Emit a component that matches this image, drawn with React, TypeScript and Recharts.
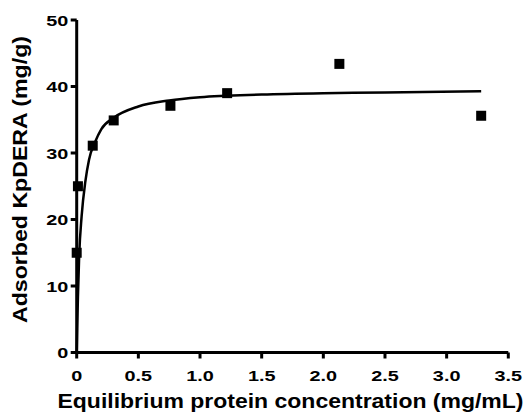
import React from 'react';
import { ComposedChart, Line, Scatter, XAxis, YAxis } from 'recharts';

// measured adsorption points
const pointX = [0.0, 0.01, 0.13, 0.3, 0.76, 1.22, 2.13, 3.28];
const pointY = [15.0, 25.0, 31.1, 34.9, 37.1, 39.0, 43.4, 35.6];

// fitted curve
const curveX = [0, 0.004, 0.01, 0.02, 0.04, 0.07, 0.1, 0.15, 0.2, 0.3, 0.5, 0.75, 1.0, 1.5, 2.0, 2.5, 3.28];
const curveY = [0, 3.6, 8.4, 14.5, 20.5, 25.7, 29.0, 31.7, 33.6, 35.3, 37.0, 37.9, 38.4, 38.8, 39.0, 39.1, 39.3];

const xTicks = [0, 0.5, 1, 1.5, 2, 2.5, 3, 3.5];
const yTicks = [0, 10, 20, 30, 40, 50];

const points = pointX.map((x, i) => ({ x, y: pointY[i] }));
const curve = curveX.map((x, i) => ({ x, y: curveY[i] }));

const font = 'Liberation Sans, Arial, sans-serif';
const STRETCH = 1.28;

const Square = (props: any) => {
  const { cx, cy } = props;
  if (cx == null || cy == null) return null;
  return <rect x={cx - 5} y={cy - 5} width={10} height={10} fill="#000" />;
};

const XTick = (props: any) => {
  const { x, y, payload } = props;
  const v = payload.value as number;
  const txt = v === 0 ? '0' : v.toFixed(1);
  return (
    <text
      transform={`translate(${x},${y + 20.5}) scale(${STRETCH},1)`}
      textAnchor="middle"
      fontSize={15.5}
      fontWeight={700}
      fontFamily={font}
      fill="#000"
    >
      {txt}
    </text>
  );
};

const YTick = (props: any) => {
  const { x, y, payload } = props;
  return (
    <text
      transform={`translate(${x - 0.5},${y + 5.5}) scale(${STRETCH},1)`}
      textAnchor="end"
      fontSize={15.5}
      fontWeight={700}
      fontFamily={font}
      fill="#000"
    >
      {String(payload.value)}
    </text>
  );
};

const XLabel = () => (
  <text
    x={290.5}
    y={408}
    textAnchor="middle"
    fontSize={21}
    fontWeight={700}
    fontFamily={font}
    fill="#000"
    textLength={466}
    lengthAdjust="spacingAndGlyphs"
  >
    Equilibrium protein concentration (mg/mL)
  </text>
);

const YLabel = () => (
  <text
    transform="translate(27,179.5) rotate(-90)"
    textAnchor="middle"
    fontSize={21}
    fontWeight={700}
    fontFamily={font}
    fill="#000"
    textLength={287}
    lengthAdjust="spacingAndGlyphs"
  >
    Adsorbed KpDERA (mg/g)
  </text>
);

const App: React.FC = () => {
  return (
    <div style={{ width: 531, height: 412, margin: '-8px 0 0 -8px' }}>
      <ComposedChart width={531} height={412} margin={{ top: 20, right: 22.7, left: 26.7, bottom: 9.5 }}>
        <XAxis
          type="number"
          dataKey="x"
          domain={[0, 3.5]}
          ticks={xTicks}
          stroke="#000"
          strokeWidth={3}
          tickSize={6}
          tick={<XTick />}
          height={50}
          label={<XLabel />}
        />
        <YAxis
          type="number"
          domain={[0, 50]}
          ticks={yTicks}
          stroke="#000"
          strokeWidth={3}
          tickSize={6}
          tick={<YTick />}
          width={50}
          label={<YLabel />}
        />
        <Line
          data={curve}
          dataKey="y"
          type="monotone"
          stroke="#000"
          strokeWidth={2.5}
          dot={false}
          activeDot={false}
          isAnimationActive={false}
        />
        <Scatter data={points} dataKey="y" shape={Square} isAnimationActive={false} />
      </ComposedChart>
    </div>
  );
};

export default App;
